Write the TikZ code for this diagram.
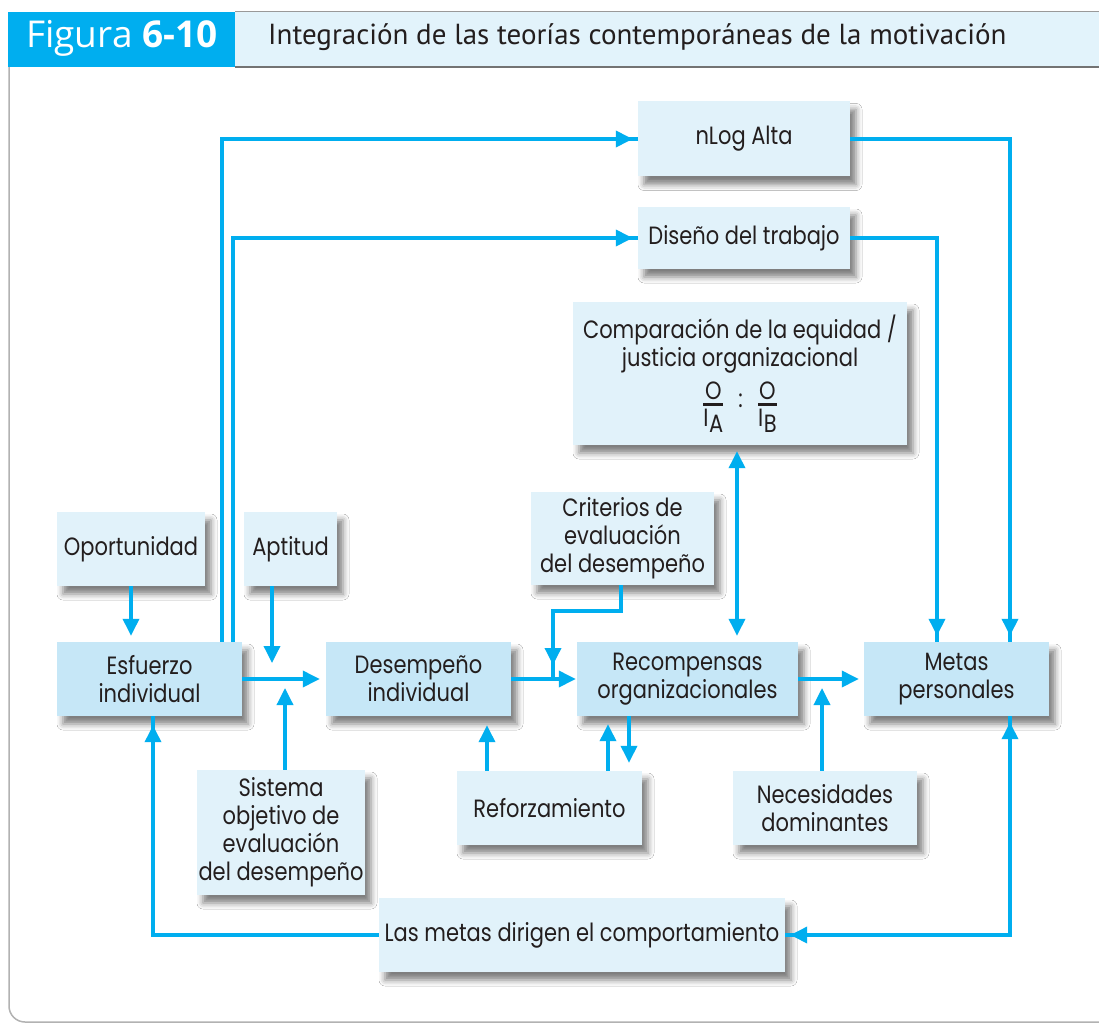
\documentclass[tikz,border=0pt]{standalone}
\usepackage{fontspec}
\setmainfont[FakeStretch=0.84]{Poppins}
\newfontfamily\headfont{Open Sans}
\newfontfamily\titlefont{PT Sans}
\usetikzlibrary{arrows.meta,shadows.blur}
\definecolor{cy}{HTML}{00AEEF}
\definecolor{lb}{HTML}{E1F2FA}
\definecolor{db}{HTML}{C6E7F7}
\definecolor{tx}{HTML}{231E1E}
\definecolor{hb}{HTML}{E2F3FB}
\begin{document}
\begin{tikzpicture}[x=1pt,y=-1pt,
 box/.style={fill=lb, text=tx, align=center, inner sep=0pt,
   font=\fontsize{25}{28}\selectfont,
   blur shadow={shadow xshift=6pt,shadow yshift=-8pt,shadow blur radius=6pt,shadow opacity=50}},
 mainbox/.style={box, fill=db},
 conn/.style={draw=cy, line width=3.5pt},
 arr/.style={conn, -{Triangle[length=17pt,width=16pt]}},
 darr/.style={conn, {Triangle[length=17pt,width=16pt]}-{Triangle[length=17pt,width=16pt]}},
]
\useasboundingbox (0,0) rectangle (1099,1024);
\fill[white] (0,0) rectangle (1099,1024);
% frame and header
\draw[black!30, line width=1.5pt, rounded corners=16pt] (9,67) -- (9,1022) -- (1100,1022);
\fill[cy] (8,12) rectangle (235,67);
\fill[hb] (235,12) rectangle (1099,67);
\draw[black!40, line width=1pt] (235,11.5) -- (1099,11.5);
\draw[black!55, line width=1.6pt] (235,67) -- (1099,67);
\node[anchor=west, text=white, inner sep=0pt, font=\headfont\fontsize{37}{37}\selectfont] (fig) at (26,38) {Figura \textbf{6-10}};
\node[anchor=west, text=tx, inner sep=0pt, font=\titlefont\fontsize{29}{29}\selectfont] (title) at (268,37) {Integración de las teorías contemporáneas de la motivación};

% boxes
\node[box, minimum width=212pt, minimum height=75pt] (nlog) at (744,139) {nLog Alta};
\node[box, minimum width=212pt, minimum height=62pt] (dis) at (744,238) {Diseño del trabajo};
\node[box, minimum width=334pt, minimum height=143pt] (comp) at (740,373.5)
 {Comparación de la equidad /\\ justicia organizacional\\[8pt]
  ${\mbox{O}\above 3pt \mbox{I\kern0.5pt\raisebox{-6pt}{A}}}$\hspace{14pt}\raisebox{3pt}{:}\hspace{14pt}${\mbox{O}\above 3pt \mbox{I\kern0.5pt\raisebox{-6pt}{B}}}$};
\node[box, minimum width=183pt, minimum height=93pt] (crit) at (622.5,538.5) {Criterios de\\evaluación\\del desempeño};
\node[box, minimum width=148pt, minimum height=74pt] (oport) at (131,549) {Oportunidad};
\node[box, minimum width=93pt, minimum height=74pt] (apt) at (290.5,549) {Aptitud};
\node[mainbox, minimum width=185pt, minimum height=74pt] (esf) at (149.5,679) {Esfuerzo\\individual};
\node[mainbox, minimum width=185pt, minimum height=74pt] (des) at (418.5,679) {Desempeño\\individual};
\node[mainbox, minimum width=221pt, minimum height=74pt] (rec) at (687.5,679) {Recompensas\\organizacionales};
\node[mainbox, minimum width=185pt, minimum height=74pt] (metas) at (956.5,679) {Metas\\personales};
\node[box, minimum width=168pt, minimum height=125pt] (sist) at (281,832.5) {Sistema\\objetivo de\\evaluación\\del desempeño};
\node[box, minimum width=185pt, minimum height=74pt] (refo) at (549.5,808) {Reforzamiento};
\node[box, minimum width=184pt, minimum height=74pt] (nec) at (825,808) {Necesidades\\dominantes};
\node[box, minimum width=406pt, minimum height=74pt] (lm) at (582,935) {Las metas dirigen el comportamiento};

% junction coordinates
\coordinate (ja) at (272,677);
\coordinate (js) at (285,677);
\coordinate (jc) at (553,677);
\coordinate (jn) at (822,677);
\coordinate (x1) at (222,0);
\coordinate (x2) at (233,0);
\coordinate (xc) at (621,611);
\coordinate (xq) at (737,0);
\coordinate (xr1) at (608,0);
\coordinate (xr2) at (629,0);
\coordinate (xd) at (487,0);
\coordinate (xm1) at (1010,0);
\coordinate (xm2) at (937,0);
\coordinate (xe) at (153,0);

% connectors
\draw[arr, shorten >=6pt] (oport.south) -- (oport.south |- esf.north);
\draw[arr, shorten >=6pt] (esf.east) -- (des.west);
\draw[arr, shorten >=14pt] (apt.south -| ja) -- (ja);
\draw[arr, shorten >=11pt] (sist.north -| js) -- (js);
\draw[conn] (esf.north -| x1) |- (nlog.west);
\draw[arr, shorten >=5pt] (x1 |- nlog.west) -- (nlog.west);
\draw[conn] (esf.north -| x2) |- (dis.west);
\draw[arr, shorten >=5pt] (x2 |- dis.west) -- (dis.west);
\draw[arr, shorten >=1pt] (des.east) -- (rec.west);
\draw[conn] (crit.south -| xc) -- (xc) -| (jc);
\draw[arr, shorten >=12pt] (xc -| jc) -- (jc);
\draw[darr, shorten >=6pt, shorten <=6pt] (comp.south -| xq) -- (rec.north -| xq);
\draw[arr, shorten >=5pt] (rec.east) -- (metas.west);
\draw[arr, shorten >=11pt] (nec.north -| jn) -- (jn);
\draw[arr, shorten >=9pt] (refo.north -| xd) -- (des.south -| xd);
\draw[arr, shorten >=8pt] (refo.north -| xr1) -- (rec.south -| xr1);
\draw[arr, shorten >=8pt] (rec.south -| xr2) -- (refo.north -| xr2);
\draw[conn] (nlog.east) -| (xm1 |- metas.north);
\draw[arr, shorten >=6pt] (xm1 |- dis.south) -- (xm1 |- metas.north);
\draw[conn] (dis.east) -| (xm2 |- metas.north);
\draw[arr, shorten >=6pt] (xm2 |- comp.south) -- (xm2 |- metas.north);
\draw[conn] (metas.south -| xm1) |- (lm.east);
\draw[arr, shorten >=6pt] (xm1 |- lm.east) -- (metas.south -| xm1);
\draw[arr, shorten >=5pt] (lm.east -| xm2) -- (lm.east);
\draw[conn] (lm.west) -| (esf.south -| xe);
\draw[arr, shorten >=9pt] (xe |- sist.north) -- (esf.south -| xe);
\end{tikzpicture}
\end{document}
